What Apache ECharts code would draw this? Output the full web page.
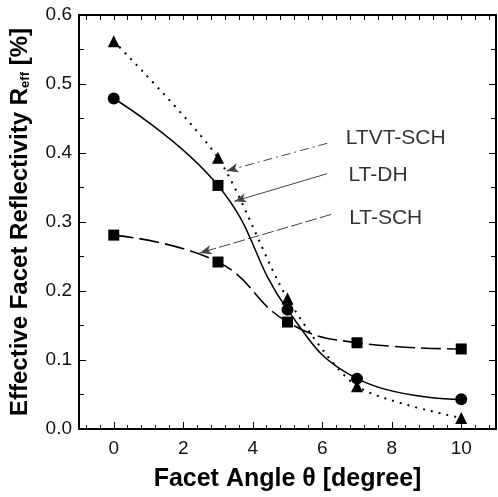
<!DOCTYPE html>
<html>
<head>
<meta charset="utf-8">
<script src="https://cdn.jsdelivr.net/npm/echarts@6/dist/echarts.min.js"></script>
<style>
html,body{margin:0;padding:0;background:#fff;}
#c{width:498px;height:497px;}
</style>
</head>
<body>
<div id="c"></div>
<script>
// ---- data ----
const angles = [0, 3, 5, 7, 10];
const ltvtSch = [0.562, 0.393, 0.189, 0.062, 0.016];
const ltDh    = [0.479, 0.353, 0.173, 0.073, 0.043];
const ltSch   = [0.281, 0.242, 0.155, 0.125, 0.116];
const seriesNames = ['LTVT-SCH', 'LT-DH', 'LT-SCH'];
const xTicks = [0, 2, 4, 6, 8, 10];
const yTicks = [0.0, 0.1, 0.2, 0.3, 0.4, 0.5, 0.6];

// annotation anchors (data coordinates): label point, arrow start, arrow end
const annotLabel = [[6.66, 0.421], [6.74, 0.368], [6.76, 0.306]];
const annotFrom  = [[6.14, 0.414], [6.14, 0.370], [6.26, 0.311]];
const annotTo    = [[3.24, 0.374], [3.47, 0.330], [2.47, 0.255]];

// ---- config ----
const FONT = 'Liberation Sans, Arial, sans-serif';
const xMin = -1, xMax = 11;
const minorX = [];
for (let v = xMin + 0.2; v < xMax; v += 0.4) {
  const r = Math.round(v * 10) / 10;
  if (!xTicks.includes(r)) minorX.push(r);
}
const allX = xTicks.concat(minorX);

function pts(ys) { return angles.map((a, i) => [a, ys[i]]); }

const annotStyles = [
  { type: [9, 4, 2, 4], width: 1 },
  { type: 'solid', width: 1 },
  { type: [12, 3], width: 1 }
];

const chart = echarts.init(document.getElementById('c'), null, { renderer: 'canvas' });

const axisLineStyle = { color: '#000', width: 2 };

const option = {
  animation: false,
  backgroundColor: '#fff',
  grid: { left: 79, right: 2, top: 15, bottom: 63, containLabel: false },
  xAxis: [
    {
      type: 'value', position: 'bottom', min: xMin, max: xMax,
      axisLine: { show: true, onZero: false, lineStyle: axisLineStyle },
      axisTick: { show: true, inside: true, length: 7, customValues: xTicks, lineStyle: { color: '#000', width: 1 } },
      axisLabel: { show: true, customValues: xTicks, fontSize: 19, color: '#111', fontFamily: FONT, margin: 10 },
      splitLine: { show: false },
      name: 'Facet Angle θ [degree]',
      nameLocation: 'middle', nameGap: 38,
      nameTextStyle: { fontSize: 25, fontWeight: 'bold', color: '#000', fontFamily: FONT }
    },
    {
      type: 'value', position: 'bottom', min: xMin, max: xMax,
      axisLine: { show: false, onZero: false },
      axisTick: { show: true, inside: true, length: 4, customValues: minorX, lineStyle: { color: '#000', width: 1 } },
      axisLabel: { show: false },
      splitLine: { show: false }
    },
    {
      type: 'value', position: 'top', min: xMin, max: xMax,
      axisLine: { show: true, onZero: false, lineStyle: axisLineStyle },
      axisTick: { show: true, inside: true, length: 5, customValues: allX, lineStyle: { color: '#000', width: 1 } },
      axisLabel: { show: false },
      splitLine: { show: false }
    }
  ],
  yAxis: [
    {
      type: 'value', position: 'left', min: yTicks[0], max: yTicks[yTicks.length - 1], interval: 0.1,
      axisLine: { show: true, onZero: false, lineStyle: axisLineStyle },
      axisTick: { show: true, inside: true, length: 7, lineStyle: { color: '#000', width: 1 } },
      minorTick: { show: true, splitNumber: 2, length: 5, lineStyle: { color: '#000', width: 1 } },
      axisLabel: { fontSize: 19, color: '#111', fontFamily: FONT, margin: 7,
        formatter: v => v.toFixed(1) },
      splitLine: { show: false },
      minorSplitLine: { show: false },
      name: '{b|Effective Facet Reflectivity R}{s|eff}{b| [%]}',
      nameLocation: 'middle', nameGap: 47, nameRotate: 90,
      nameTextStyle: {
        rich: {
          b: { fontSize: 24, fontWeight: 'bold', color: '#000', fontFamily: FONT },
          s: { fontSize: 13, fontWeight: 'bold', color: '#000', fontFamily: FONT, verticalAlign: 'bottom', padding: [10, 0, 0, 0] }
        }
      }
    },
    {
      type: 'value', position: 'right', min: yTicks[0], max: yTicks[yTicks.length - 1], interval: 0.1,
      axisLine: { show: true, onZero: false, lineStyle: axisLineStyle },
      axisTick: { show: true, inside: true, length: 7, lineStyle: { color: '#000', width: 1 } },
      minorTick: { show: true, splitNumber: 2, length: 5, lineStyle: { color: '#000', width: 1 } },
      axisLabel: { show: false },
      splitLine: { show: false }
    }
  ],
  series: [
    {
      name: seriesNames[0], type: 'line', xAxisIndex: 0, yAxisIndex: 0,
      data: pts(ltvtSch), smooth: 0.25,
      symbol: 'triangle', symbolSize: 12,
      itemStyle: { color: '#000' },
      lineStyle: { color: '#000', width: 2, type: [2, 6] },
      z: 3
    },
    {
      name: seriesNames[1], type: 'line', xAxisIndex: 0, yAxisIndex: 0,
      data: pts(ltDh).map((p, i) => i === 1 ? { value: p, symbol: 'rect', symbolSize: 11 } : p),
      smooth: 0.45,
      symbol: 'circle', symbolSize: 12,
      itemStyle: { color: '#000' },
      lineStyle: { color: '#000', width: 1.5, type: 'solid' },
      z: 4
    },
    {
      name: seriesNames[2], type: 'line', xAxisIndex: 0, yAxisIndex: 0,
      data: pts(ltSch), smooth: 0.45,
      symbol: 'rect', symbolSize: 11,
      itemStyle: { color: '#000' },
      lineStyle: { color: '#000', width: 1.6, type: [20, 6] },
      z: 3
    },
    {
      name: 'annotations', type: 'scatter', xAxisIndex: 0, yAxisIndex: 0,
      symbolSize: 1, itemStyle: { color: 'rgba(0,0,0,0)' },
      silent: true,
      data: annotLabel.map((p, i) => ({ value: p, name: seriesNames[i] })),
      label: {
        show: true, position: 'right', distance: 0,
        formatter: p => p.name,
        fontSize: 21, color: '#000', fontFamily: FONT
      },
      markLine: {
        silent: true, animation: false,
        label: { show: false },
        data: annotFrom.map((f, i) => [
          { coord: f, symbol: 'none', lineStyle: Object.assign({ color: '#444' }, annotStyles[i]) },
          { coord: annotTo[i], symbol: 'arrow', symbolSize: [7, 12] }
        ]),
        lineStyle: { color: '#444', width: 1 },
        itemStyle: { color: '#444' }
      },
      z: 5
    }
  ]
};
chart.setOption(option);
</script>
</body>
</html>
